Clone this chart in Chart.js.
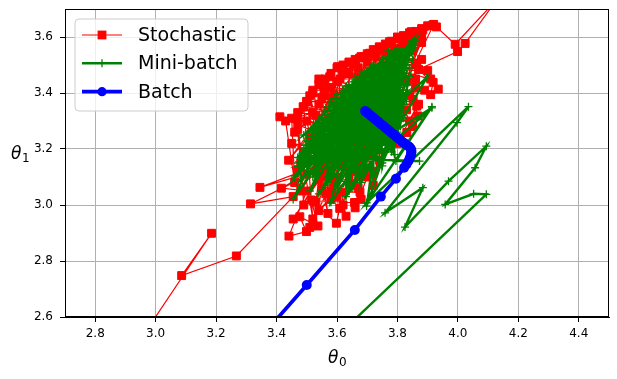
<!DOCTYPE html>
<html>
<head>
<meta charset="utf-8">
<script src="https://cdn.jsdelivr.net/npm/chart.js@4/dist/chart.umd.min.js"></script>
<style>
html,body{margin:0;padding:0;background:#fff;}
#wrap{width:617px;height:379px;}
</style>
</head>
<body>
<div id="wrap"><canvas id="c" width="617" height="379"></canvas></div>
<script>
// ---- data ----
const seriesNames = ["Stochastic", "Mini-batch", "Batch"];
const xTicks = [2.8, 3.0, 3.2, 3.4, 3.6, 3.8, 4.0, 4.2, 4.4];
const yTicks = [2.6, 2.8, 3.0, 3.2, 3.4, 3.6];

const sgdTheta0 = [2.90,3.185,3.086,3.267,3.455,3.314,3.53,3.345,3.58,3.416,3.50,3.441,3.499,3.477,3.537,3.515,3.598,3.609,3.563,3.617,
  3.676,3.658,3.522,3.60,3.48,3.66,3.45,3.70,3.411,3.62,3.47,3.488,3.72,3.52,3.55,3.78,3.576,3.56,3.602,3.83,
  3.64,3.675,3.62,3.708,3.74,3.86,3.774,3.80,3.846,3.884,3.917,3.864,3.929,3.991,4.13,4.024,3.999,3.870,3.935,3.910,
  3.918,3.864,3.852,3.868,3.831,3.864,3.80,3.55,3.64,3.72,3.68,3.54,3.58,3.66,3.51,3.75,3.53,3.46,3.50,3.60,
  3.66,3.69,3.73,3.82,3.76,3.85,3.70,3.79,3.63,3.57,3.49,3.74,3.62,3.86,3.81,3.59,3.54,3.67,3.71,3.79,3.88,3.65,3.77,
  3.43,3.46,3.45,3.84,3.47,3.49,3.47,3.52,3.49,3.87,3.50,3.55,3.50,3.57,3.51,3.60,3.52,3.89,3.52,3.63,
  3.54,3.65,3.56,3.86,3.54,3.68,3.58,3.70,3.60,3.90,3.56,3.47,3.62,3.50,3.64,3.84,3.58,3.53,3.66,3.56,
  3.68,3.88,3.61,3.59,3.70,3.62,3.72,3.85,3.64,3.64,3.74,3.67,3.76,3.83,3.67,3.44,3.78,3.48,3.80,3.91,
  3.70,3.51,3.82,3.54,3.84,3.73,3.58,3.86,3.61,3.88,3.76,3.66,3.90,3.69,3.92,3.79,3.72,3.82,3.455,3.85,
  3.50,3.88,3.57];
const sgdTheta1 = [2.44,2.899,2.748,2.818,3.03,3.004,3.12,3.063,3.16,3.060,3.05,2.889,2.905,2.958,2.925,3.018,2.935,2.988,3.040,3.046,
  3.046,3.009,3.015,3.10,3.15,3.12,3.22,3.18,3.315,3.28,3.30,3.351,3.30,3.40,3.38,3.36,3.458,3.42,3.494,3.44,
  3.51,3.525,3.47,3.542,3.56,3.50,3.583,3.60,3.619,3.625,3.643,3.611,3.636,3.574,3.735,3.577,3.548,3.484,3.414,3.394,
  3.438,3.502,3.377,3.318,3.259,3.353,3.22,3.10,3.08,3.12,3.15,2.98,3.02,3.20,3.24,3.25,3.32,3.26,3.37,3.44,
  3.50,3.53,3.55,3.59,3.50,3.55,3.40,3.30,3.35,3.24,3.19,3.16,3.14,3.42,3.48,3.39,3.45,3.46,3.47,3.53,3.58,3.31,3.41,
  3.30,3.08,3.31,3.30,3.33,3.00,3.27,2.95,3.35,3.36,3.37,3.06,3.30,2.97,3.39,3.03,3.41,3.41,3.33,2.96,
  3.43,3.07,3.45,3.45,3.36,3.02,3.47,3.10,3.49,3.48,3.39,3.12,3.50,3.18,3.51,3.39,3.42,3.01,3.52,3.13,
  3.53,3.52,3.45,3.08,3.54,3.00,3.555,3.28,3.47,3.11,3.565,3.06,3.575,3.34,3.49,3.16,3.585,3.05,3.595,3.45,
  3.51,2.92,3.605,3.09,3.615,3.53,3.05,3.62,3.15,3.63,3.545,2.99,3.64,3.13,3.645,3.56,3.07,3.575,2.95,3.59,
  3.11,3.60,3.17];

const mgdTheta0 = [3.20,4.094,4.052,3.958,4.057,4.094,3.969,3.825,3.884,3.759,3.997,4.035,3.698,3.914,3.795,3.873,
  3.47,3.70,3.52,3.80,3.455,3.62,3.56,3.858,3.50,3.75,3.60,3.83,3.49,3.66,3.64,3.82,3.53,3.78,3.68,3.83,
  3.55,3.72,3.72,3.82,3.58,3.84,3.62,3.58,3.75,3.81,3.66,3.68,3.51,3.77,3.70,3.81,3.48,3.64,3.78,3.80,
  3.56,3.73,3.61,3.86,3.54,3.79,3.74,3.70,3.60,3.83,3.65,3.76,3.698,3.81,3.50,3.67,3.57,3.85,3.71,3.79,
  3.63,3.74,3.46,3.60,3.68,3.82,3.59,3.897,3.76,3.914,3.67,3.848,3.54,3.71,3.62,3.78,3.73,3.66,3.58,3.77,
  3.47,3.73,3.49,3.81,3.51,3.60,3.53,3.82,3.55,3.67,3.57,3.78,3.59,3.79,3.61,3.70,3.63,3.86,3.65,3.63,
  3.67,3.81,3.69,3.76,3.71,3.62,3.73,3.84,3.75,3.74,3.77,3.77,3.79,3.71,3.52,3.80,3.56,3.68,3.60,3.83,
  3.64,3.65,3.68,3.75,3.72,3.72,3.76,3.84,3.80,3.69,3.48,3.83,3.58,3.66,3.63,3.82,
  3.47,3.76,3.48,3.79,3.49,3.80,3.50,3.81,3.52,3.82,3.53,3.82,3.55,3.83,3.57,3.83,3.59,3.83,3.62,3.84,
  3.65,3.84,3.68,3.85,3.71,3.85,3.75,3.85,3.79,
  3.81,3.66,3.83,3.63,3.82,3.60,3.82,3.58,3.81,3.56,3.81,3.54,3.80,3.525,3.80,3.51,3.79,3.495,3.78,3.485,
  3.77,3.475,3.74,3.50];
const mgdTheta1 = [2.12,3.038,3.040,3.002,3.133,3.210,3.085,2.921,3.062,2.972,3.294,3.351,3.008,3.351,3.157,3.157,
  3.17,3.48,3.10,3.56,3.02,3.40,3.07,3.586,3.20,3.52,3.06,3.50,3.25,3.44,3.05,3.45,3.15,3.54,3.08,3.40,
  3.22,3.50,3.10,3.36,3.12,3.55,3.18,3.37,3.15,3.30,3.12,3.46,3.05,3.50,3.20,3.48,3.12,3.42,3.19,3.40,
  3.28,3.49,3.10,3.57,3.04,3.44,3.24,3.45,3.26,3.52,3.15,3.46,2.996,3.35,3.14,3.40,3.10,3.58,3.14,3.30,
  3.22,3.42,3.10,3.35,3.25,3.54,3.16,3.455,3.20,3.347,3.18,3.586,3.20,3.38,3.28,3.38,3.28,3.36,3.30,3.42,
  3.15,3.48,3.19,3.55,3.22,3.36,3.12,3.48,3.17,3.43,3.08,3.33,3.13,3.53,3.20,3.46,3.09,3.585,3.16,3.40,
  3.10,3.42,3.17,3.51,3.12,3.31,3.19,3.57,3.14,3.44,3.22,3.55,3.18,3.41,3.26,3.53,3.30,3.38,3.24,3.50,
  3.27,3.34,3.22,3.48,3.25,3.45,3.28,3.46,3.26,3.42,3.09,3.40,3.01,3.39,3.03,3.32,
  3.14,3.19,3.17,3.22,3.20,3.25,3.23,3.28,3.26,3.31,3.29,3.34,3.32,3.37,3.35,3.40,3.38,3.43,3.41,3.46,
  3.44,3.49,3.47,3.52,3.49,3.55,3.52,3.57,3.545,
  3.50,3.455,3.47,3.425,3.44,3.395,3.41,3.365,3.38,3.335,3.35,3.305,3.32,3.275,3.29,3.245,3.26,3.215,3.23,3.185,
  3.20,3.155,3.17,3.12];

const bgdTheta0 = [3.21,3.50,3.659,3.745,3.795,3.822,3.830,3.836,3.840,3.843,3.845,3.846,3.846,3.844,3.840,3.834,3.827,
  3.821,3.815,3.809,3.803,3.797,3.791,3.785,3.779,3.773,3.767,3.761,3.755,3.749,3.743,3.737,3.731,3.725,3.719,
  3.713,3.707,3.701,3.696,3.693];
const bgdTheta1 = [2.36,2.714,2.911,3.030,3.094,3.133,3.145,3.156,3.165,3.173,3.181,3.188,3.195,3.201,3.207,3.212,3.217,
  3.222,3.227,3.233,3.238,3.243,3.249,3.254,3.259,3.265,3.270,3.275,3.281,3.286,3.291,3.297,3.302,3.307,3.313,
  3.318,3.323,3.329,3.333,3.336];

// ---- build library data ----
const toPts = (xs, ys) => xs.map((x, i) => ({x: x, y: ys[i]}));
const RED = '#ff0000', GREEN = '#008000', BLUE = '#0000ff';

const tickFont = {family: 'DejaVu Sans', size: 12};

const frameAndLabels = {
  id: 'frameAndLabels',
  afterDatasetsDraw(chart) {
    const {ctx, chartArea: a} = chart;
    ctx.save();
    ctx.strokeStyle = '#000';
    ctx.lineWidth = 1;
    ctx.strokeRect(Math.round(a.left) + 0.5, Math.round(a.top) + 0.5,
                   Math.round(a.right - a.left) - 1, Math.round(a.bottom - a.top) - 1);
    ctx.restore();
  },
  afterDraw(chart) {
    const {ctx, chartArea: a} = chart;
    ctx.save();
    ctx.fillStyle = '#000';
    ctx.textBaseline = 'alphabetic';
    const drawTheta = (cx, base, sub, align) => {
      ctx.font = 'italic 17px "DejaVu Sans"';
      const w1 = ctx.measureText('θ').width;
      ctx.font = '12px "DejaVu Sans"';
      const w2 = ctx.measureText(sub).width;
      const x0 = align === 'center' ? cx - (w1 + w2) / 2 : cx;
      ctx.font = 'italic 17px "DejaVu Sans"';
      ctx.textAlign = 'left';
      ctx.fillText('θ', x0, base);
      ctx.font = '12px "DejaVu Sans"';
      ctx.fillText(sub, x0 + w1 + 0.5, base + 2.5);
    };
    drawTheta((a.left + a.right) / 2, 363, '0', 'center');
    drawTheta(11, 159, '1', 'left');

    // legend inside the axes (upper left)
    const bx = 75, by = 19, bw = 173, bh = 92, r = 4;
    ctx.beginPath();
    ctx.moveTo(bx + r, by);
    ctx.arcTo(bx + bw, by, bx + bw, by + bh, r);
    ctx.arcTo(bx + bw, by + bh, bx, by + bh, r);
    ctx.arcTo(bx, by + bh, bx, by, r);
    ctx.arcTo(bx, by, bx + bw, by, r);
    ctx.closePath();
    ctx.fillStyle = 'rgba(255,255,255,0.8)';
    ctx.fill();
    ctx.strokeStyle = '#cccccc';
    ctx.lineWidth = 1;
    ctx.stroke();

    const rows = [35, 63.3, 91.7];
    const styles = [
      {c: RED, lw: 1.2, m: 'rect'},
      {c: GREEN, lw: 2.4, m: 'cross'},
      {c: BLUE, lw: 3.7, m: 'circle'}
    ];
    seriesNames.forEach((name, i) => {
      const y = rows[i], s = styles[i];
      ctx.strokeStyle = s.c;
      ctx.lineWidth = s.lw;
      ctx.beginPath();
      ctx.moveTo(82, y);
      ctx.lineTo(122, y);
      ctx.stroke();
      ctx.fillStyle = s.c;
      if (s.m === 'rect') {
        ctx.fillRect(102 - 4.4, y - 4.4, 8.8, 8.8);
      } else if (s.m === 'circle') {
        ctx.beginPath(); ctx.arc(102, y, 4.6, 0, Math.PI * 2); ctx.fill();
      } else {
        ctx.lineWidth = 1.3;
        ctx.beginPath();
        ctx.moveTo(102, y - 4); ctx.lineTo(102, y + 4);
        ctx.moveTo(98, y); ctx.lineTo(106, y);
        ctx.stroke();
      }
      ctx.fillStyle = '#000';
      ctx.font = '19px "DejaVu Sans"';
      ctx.textAlign = 'left';
      ctx.textBaseline = 'middle';
      ctx.fillText(name, 138, y + 1);
    });
    ctx.restore();
  }
};

new Chart(document.getElementById('c'), {
  type: 'scatter',
  data: {
    datasets: [
      {
        label: seriesNames[0], data: toPts(sgdTheta0, sgdTheta1), showLine: true,
        borderColor: RED, backgroundColor: RED, borderWidth: 1.2,
        pointStyle: 'rect', pointRadius: 5.6, pointBorderWidth: 1, pointBorderColor: RED, pointBackgroundColor: RED,
        order: 3
      },
      {
        label: seriesNames[1], data: toPts(mgdTheta0, mgdTheta1), showLine: true,
        borderColor: GREEN, backgroundColor: GREEN, borderWidth: 2.4,
        pointStyle: 'cross', pointRadius: 4, pointBorderWidth: 1.3, pointBorderColor: GREEN,
        order: 2
      },
      {
        label: seriesNames[2], data: toPts(bgdTheta0, bgdTheta1), showLine: true,
        borderColor: BLUE, backgroundColor: BLUE, borderWidth: 3.7,
        pointStyle: 'circle', pointRadius: 5, pointBorderWidth: 0, pointBackgroundColor: BLUE,
        order: 1
      }
    ]
  },
  options: {
    responsive: false,
    animation: false,
    devicePixelRatio: 1,
    layout: {padding: {top: 9, right: 8, left: 0, bottom: 0}},
    plugins: {legend: {display: false}, tooltip: {enabled: false}},
    elements: {line: {tension: 0}},
    scales: {
      x: {
        type: 'linear', min: 2.7, max: 4.5,
        afterBuildTicks: s => { s.ticks = xTicks.map(v => ({value: v})); },
        afterFit: s => { s.height = 62; s.paddingLeft = 0; s.paddingRight = 0; },
        grid: {color: '#b0b0b0', lineWidth: 1, tickColor: '#000', tickLength: 5, drawTicks: true},
        border: {color: '#000', width: 1},
        ticks: {color: '#000', font: tickFont, padding: 5, maxRotation: 0, autoSkip: false,
                callback: v => Number(v).toFixed(1)}
      },
      y: {
        type: 'linear', min: 2.6, max: 3.7,
        afterBuildTicks: s => { s.ticks = yTicks.map(v => ({value: v})); },
        afterFit: s => { s.width = 65; s.paddingTop = 0; s.paddingBottom = 0; },
        grid: {color: '#b0b0b0', lineWidth: 1, tickColor: '#000', tickLength: 5, drawTicks: true},
        border: {color: '#000', width: 1},
        ticks: {color: '#000', font: tickFont, padding: 7, autoSkip: false,
                callback: v => Number(v).toFixed(1)}
      }
    }
  },
  plugins: [frameAndLabels]
});
</script>
</body>
</html>
